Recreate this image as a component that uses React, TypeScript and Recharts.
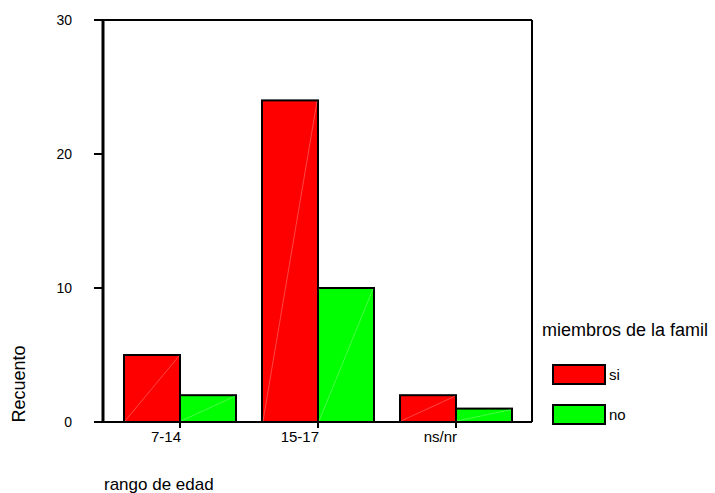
import React from 'react';
import { BarChart, Bar, XAxis, YAxis, Legend, Label } from 'recharts';

const categories = ['7-14', '15-17', 'ns/nr'];
const siValues = [5, 24, 2];
const noValues = [2, 10, 1];
const yTicks = [0, 10, 20, 30];
const seriesNames = ['si', 'no'];
const legendTitle = 'miembros de la famil';
const xTitle = 'rango de edad';
const yTitle = 'Recuento';

const FONT = '"Liberation Sans", Arial, sans-serif';

const data = categories.map((cat, i) => ({ cat, si: siValues[i], no: noValues[i] }));

// bar with black outline and the faint diagonal streak seen in the original
const BoxBar = (props: any) => {
  const { x, y, width, height, fill } = props;
  if (!height || height <= 0) return null;
  return (
    <g>
      <rect x={x} y={y} width={width} height={height} fill={fill} stroke="#000" strokeWidth={2} />
      <line x1={x + 1} y1={y + height - 1} x2={x + width - 1} y2={y + 1} stroke="#ffffff" strokeOpacity={0.35} strokeWidth={0.8} />
    </g>
  );
};

const XTick = (props: any) => {
  const { x, y, payload } = props;
  return (
    <text x={x + 1} y={y} dy={12} textAnchor="end" fontSize={15} fontFamily={FONT} fill="#000">
      {payload.value}
    </text>
  );
};

const YTitle = () => (
  <text x={25} y={384} transform="rotate(-90, 25, 384)" textAnchor="middle" fontSize={18} fontFamily={FONT} fill="#000">
    {yTitle}
  </text>
);

const XTitle = () => (
  <text x={104} y={490} textAnchor="start" fontSize={17} fontFamily={FONT} fill="#000">
    {xTitle}
  </text>
);

const LegendBox = (props: any) => {
  const payload = [...(props.payload || [])].sort(
    (a: any, b: any) => seriesNames.indexOf(a.value) - seriesNames.indexOf(b.value)
  );
  return (
    <div style={{ position: 'relative', width: 173, height: 110, fontFamily: FONT, color: '#000' }}>
      <div style={{ position: 'absolute', left: 0, top: 0, fontSize: 18, lineHeight: '20px', whiteSpace: 'nowrap' }}>
        {legendTitle}
      </div>
      {payload.map((entry: any, i: number) => (
        <div key={entry.value} style={{ position: 'absolute', left: 10, top: 44 + i * 40, display: 'flex', alignItems: 'center' }}>
          <div style={{ width: 50, height: 17, background: entry.color, border: '2px solid #000', boxSizing: 'content-box' }} />
          <span style={{ fontSize: 15, marginLeft: 3, lineHeight: '20px' }}>{entry.value}</span>
        </div>
      ))}
    </div>
  );
};

export default function App() {
  return (
    <div style={{ position: 'absolute', left: 0, top: 0, width: 715, height: 493, background: '#fff' }}>
      <BarChart
        width={715}
        height={493}
        data={data}
        margin={{ top: 19, right: 182, bottom: 0, left: 0 }}
        barGap={0}
        barCategoryGap={13}
      >
        <XAxis
          dataKey="cat"
          height={71}
          padding={{ left: 8, right: 7 }}
          axisLine={{ stroke: '#000', strokeWidth: 2 }}
          tickLine={{ stroke: '#000', strokeWidth: 2 }}
          tickSize={6}
          tick={<XTick />}
        >
          <Label content={<XTitle />} />
        </XAxis>
        <XAxis
          xAxisId="top"
          orientation="top"
          dataKey="cat"
          height={1}
          padding={{ left: 8, right: 7 }}
          axisLine={{ stroke: '#000', strokeWidth: 2 }}
          tick={false}
          tickLine={false}
        />
        <YAxis
          width={103}
          domain={[0, 30]}
          ticks={yTicks}
          interval={0}
          axisLine={{ stroke: '#000', strokeWidth: 3 }}
          tickLine={{ stroke: '#000', strokeWidth: 2 }}
          tickSize={9}
          tickMargin={22}
          tick={{ fill: '#000', fontSize: 14, fontFamily: FONT }}
        >
          <Label content={<YTitle />} />
        </YAxis>
        <YAxis
          yAxisId="right"
          orientation="right"
          width={1}
          domain={[0, 30]}
          axisLine={{ stroke: '#000', strokeWidth: 2 }}
          tick={false}
          tickLine={false}
        />
        <Legend
          layout="horizontal"
          align="center"
          verticalAlign="middle"
          content={<LegendBox />}
          wrapperStyle={{ left: 542, top: 320, width: 173, height: 110 }}
        />
        <Bar dataKey="si" name={seriesNames[0]} fill="#ff0000" shape={<BoxBar />} isAnimationActive={false} />
        <Bar dataKey="no" name={seriesNames[1]} fill="#00ff00" shape={<BoxBar />} isAnimationActive={false} />
      </BarChart>
    </div>
  );
}
